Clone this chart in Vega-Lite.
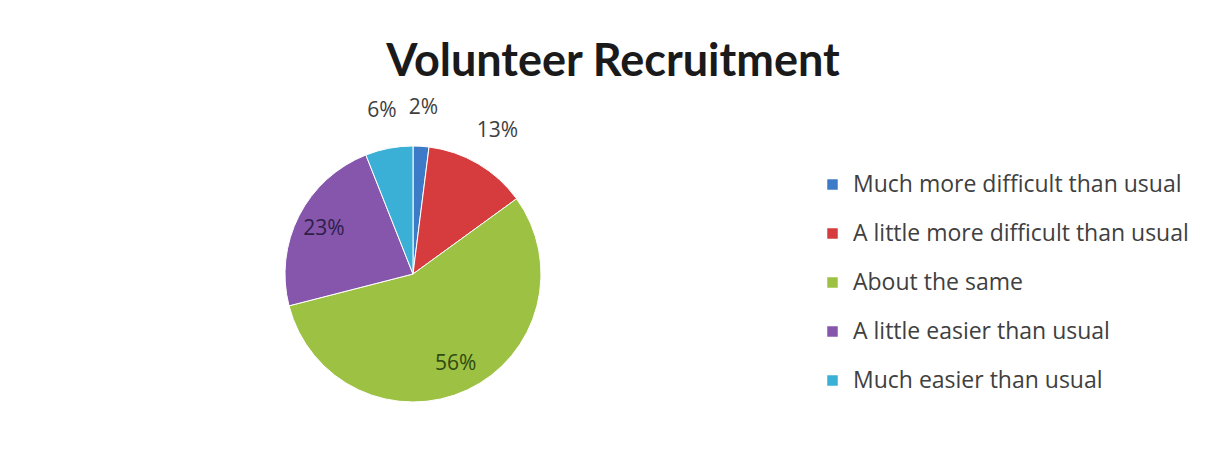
{
  "$schema": "https://vega.github.io/schema/vega-lite/v6.json",
  "width": 256,
  "height": 256,
  "autosize": {"type": "none"},
  "padding": {"left": 285, "top": 146, "right": 666, "bottom": 61},
  "background": "white",
  "config": {"view": {"stroke": null}},
  "title": {
    "text": "Volunteer Recruitment",
    "font": "Lato",
    "fontSize": 45,
    "fontWeight": "bold",
    "color": "#1a1a1a",
    "anchor": "middle",
    "frame": "group",
    "baseline": "alphabetic",
    "dx": 200,
    "dy": 41,
    "offset": 17
  },
  "data": {
    "values": [
      {"category": "Much more difficult than usual", "percent": 2, "label": "2%", "order": 1},
      {"category": "A little more difficult than usual", "percent": 13, "label": "13%", "order": 2},
      {"category": "About the same", "percent": 56, "label": "56%", "order": 3},
      {"category": "A little easier than usual", "percent": 23, "label": "23%", "order": 4},
      {"category": "Much easier than usual", "percent": 6, "label": "6%", "order": 5}
    ]
  },
  "encoding": {
    "theta": {"field": "percent", "type": "quantitative", "stack": true},
    "order": {"field": "order", "type": "quantitative"}
  },
  "layer": [
    {
      "mark": {"type": "arc", "stroke": "white", "strokeWidth": 1},
      "encoding": {
        "color": {
          "field": "category",
          "type": "nominal",
          "scale": {
            "domain": ["Much more difficult than usual", "A little more difficult than usual", "About the same", "A little easier than usual", "Much easier than usual"],
            "range": ["#3D7BC8", "#D63C3E", "#9DC143", "#8556AC", "#3BB0D6"]
          },
          "legend": {
            "title": null,
            "orient": "none",
            "legendX": 536,
            "legendY": 27,
            "symbolType": "square",
            "symbolSize": 110,
            "symbolStrokeWidth": 0,
            "labelFont": "Open Sans",
            "labelFontSize": 23,
            "labelColor": "#404040",
            "rowPadding": 25,
            "labelOffset": 9,
            "labelLimit": 500
          }
        }
      }
    },
    {
      "mark": {"type": "text", "radius": 166, "font": "Open Sans", "fontSize": 21, "color": "#404040"},
      "encoding": {
        "text": {"condition": {"test": "datum.percent < 15", "field": "label"}, "value": ""}
      }
    },
    {
      "mark": {"type": "text", "radius": 100, "font": "Open Sans", "fontSize": 21},
      "encoding": {
        "text": {"condition": {"test": "datum.percent >= 15", "field": "label"}, "value": ""},
        "color": {
          "field": "category",
          "type": "nominal",
          "scale": {
            "domain": ["Much more difficult than usual", "A little more difficult than usual", "About the same", "A little easier than usual", "Much easier than usual"],
            "range": ["#333333", "#333333", "#2F4A12", "#2E1E48", "#333333"]
          },
          "legend": null
        }
      }
    }
  ],
  "resolve": {"scale": {"color": "independent"}}
}
